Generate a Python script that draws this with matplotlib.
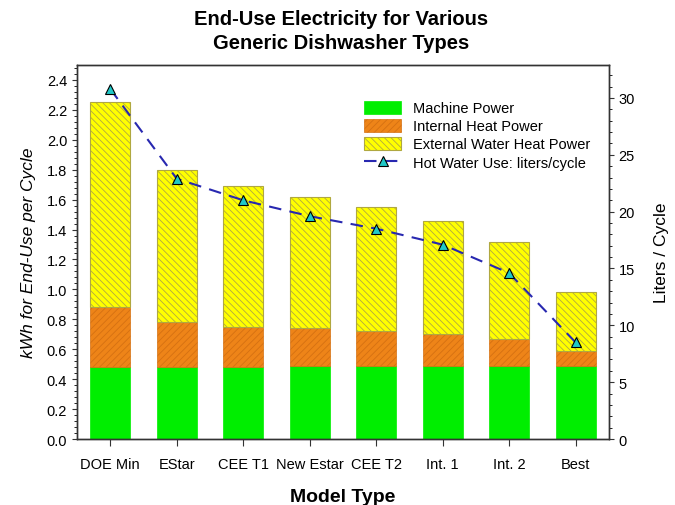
import matplotlib.pyplot as plt
from matplotlib.ticker import MultipleLocator

plt.rcParams['font.family'] = ['Liberation Sans', 'DejaVu Sans']
plt.rcParams['hatch.linewidth'] = 0.6

models = ['DOE Min', 'EStar', 'CEE T1', 'New Estar', 'CEE T2', 'Int. 1', 'Int. 2', 'Best']
machine = [0.48, 0.48, 0.48, 0.49, 0.49, 0.49, 0.49, 0.49]
internal_top = [0.88, 0.78, 0.75, 0.74, 0.72, 0.70, 0.67, 0.59]
total = [2.25, 1.80, 1.69, 1.62, 1.55, 1.46, 1.32, 0.98]
hot_water = [30.8, 22.9, 21.0, 19.6, 18.5, 17.1, 14.6, 8.5]

internal = [t - m for t, m in zip(internal_top, machine)]
external = [t - i for t, i in zip(total, internal_top)]
x = list(range(len(models)))

fig = plt.figure(figsize=(6.75, 5.06), dpi=100)
ax = fig.add_axes([0.114, 0.1304, 0.788, 0.7392])

ax.bar(x, machine, width=0.6, color='#00EE00', edgecolor='#00EE00', linewidth=0.5,
       label='Machine Power')
ax.bar(x, internal, width=0.6, bottom=machine, color='#EE8418', edgecolor='#D47012',
       linewidth=0.5, hatch='/////', label='Internal Heat Power')
ax.bar(x, external, width=0.6, bottom=internal_top, color='#FFFF00', edgecolor='#B0A840',
       linewidth=0.8, hatch='\\\\\\\\\\', label='External Water Heat Power')

ax.set_xlim(-0.5, 7.5)
ax.set_ylim(0, 2.5)
ax.yaxis.set_minor_locator(MultipleLocator(0.04))
ax.set_yticks([i * 0.2 for i in range(13)])
ax.set_yticklabels([f'{i * 0.2:.1f}' for i in range(13)])
ax.set_xticks(x)
ax.set_xticklabels(models)
ax.tick_params(axis='both', labelsize=10.5, direction='out', color='#333333')
ax.tick_params(axis='y', which='minor', length=2.5)
ax.tick_params(axis='x', length=5, pad=8)

ax2 = ax.twinx()
ax2.plot(x, hot_water, linestyle=(0, (6, 4)), color='#2828B0', linewidth=1.5,
         marker='^', markersize=7, markerfacecolor='#20C8C8', markeredgecolor='black',
         markeredgewidth=0.8, label='Hot Water Use: liters/cycle')
ax2.set_ylim(0, 32.9)
ax2.yaxis.set_major_locator(MultipleLocator(5))
ax2.yaxis.set_minor_locator(MultipleLocator(1))
ax2.tick_params(axis='y', labelsize=10.5, direction='out', color='#333333')
ax2.tick_params(axis='y', which='minor', length=2.5)

for a in (ax, ax2):
    for s in a.spines.values():
        s.set_linewidth(1.0)
        s.set_color('#333333')

ax.set_ylabel('kWh for End-Use per Cycle', fontsize=12.5, style='italic', labelpad=8)
ax2.set_ylabel('Liters / Cycle', fontsize=12.5, labelpad=14)
ax.set_xlabel('Model Type', fontsize=14, fontweight='bold', labelpad=12)
fig.suptitle('End-Use Electricity for Various\nGeneric Dishwasher Types', fontsize=14.5,
             fontweight='bold', x=0.505, y=0.98, linespacing=1.35)

h1, l1 = ax.get_legend_handles_labels()
h2, l2 = ax2.get_legend_handles_labels()
ax2.legend(h1 + h2, l1 + l2, loc='upper right', bbox_to_anchor=(0.99, 0.94), frameon=False,
           fontsize=10.5, handlelength=2.6, handleheight=1.0, labelspacing=0.25,
           handletextpad=0.8)

fig.savefig('out.png', dpi=100)
